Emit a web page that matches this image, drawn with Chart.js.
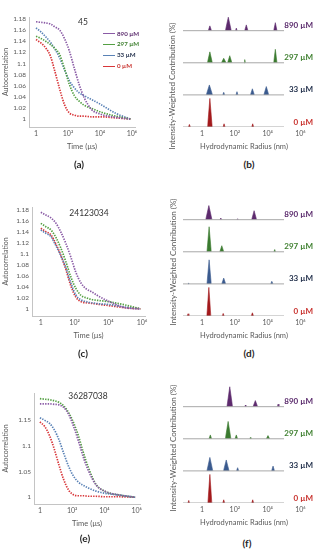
<!DOCTYPE html>
<html>
<head>
<meta charset="utf-8">
<script src="https://cdn.jsdelivr.net/npm/chart.js@4.4.1/dist/chart.umd.min.js"></script>
<style>
  body { margin: 0; background: #fff; font-family: Lato, "Open Sans", sans-serif; }
  #fig { position: relative; width: 334px; height: 550px; overflow: hidden; }
  canvas { position: absolute; }
  .txt { position: absolute; transform: translate(-50%, -50%); white-space: nowrap; color: #333; }
  .tag { font-weight: 700; font-size: 10px; color: #262626; }
  .num { font-size: 8.5px; }
  .ytitle { position: absolute; transform: translate(-50%, -50%) rotate(-90deg); white-space: nowrap;
            font-size: 8px; color: #595959; }
  .leg { position: absolute; left: 103px; font-size: 6.2px; font-weight: 700; white-space: nowrap; }
  .leg i { display: inline-block; width: 12px; height: 0; border-top: 1px solid; vertical-align: middle; margin-right: 2px; }
</style>
</head>
<body>
<div id="fig">
  <canvas id="ca" width="160" height="151" style="left:0;top:0"></canvas>
  <canvas id="cc" width="160" height="160" style="left:0;top:180px"></canvas>
  <canvas id="ce" width="160" height="168" style="left:0;top:360px"></canvas>
  <canvas id="cb" width="167" height="151" style="left:167px;top:0"></canvas>
  <canvas id="cd" width="167" height="160" style="left:167px;top:180px"></canvas>
  <canvas id="cf" width="167" height="167" style="left:167px;top:360px"></canvas>

  <div class="txt num" style="left:83px;top:22px">45</div>
  <div class="txt num" style="left:89px;top:213px">24123034</div>
  <div class="txt num" style="left:88px;top:396px">36287038</div>

  <div class="txt tag" style="left:79px;top:164px">(a)</div>
  <div class="txt tag" style="left:83px;top:353px">(c)</div>
  <div class="txt tag" style="left:85px;top:538px">(e)</div>
  <div class="txt tag" style="left:249px;top:164px">(b)</div>
  <div class="txt tag" style="left:249px;top:353px">(d)</div>
  <div class="txt tag" style="left:247px;top:543px">(f)</div>

  <div class="ytitle" style="left:172px;top:86px">Intensity-Weighted Contribution (%)</div>
  <div class="ytitle" style="left:173px;top:262px">Intensity-Weighted Contribution (%)</div>
  <div class="ytitle" style="left:173px;top:448px">Intensity-Weighted Contribution (%)</div>

  <div id="legend"></div>
</div>
<script>
// series order everywhere: 890, 297, 33, 0 µM
const concLabels = ['890 µM', '297 µM', '33 µM', '0 µM'];
const curveColors = ['#8a5ba6', '#54a043', '#5a82b6', '#d8373a'];
const labelColors = ['#5a2a6c', '#3f8030', '#1e2c48', '#c8302c'];
const peakColors = ['#5d2a6d', '#3a7a2f', '#3a5a8e', '#a31a1c'];
const axisGray = '#c4c4c4';
const textGray = '#595959';

// autocorrelation, time in µs
const times = [1, 2, 4, 8, 15, 30, 60, 120, 250, 500, 1000, 3000, 10000, 100000, 800000];
const a890 = [1.175, 1.174, 1.173, 1.171, 1.166, 1.160, 1.145, 1.123, 1.091, 1.062, 1.039, 1.017, 1.009, 1.003, 1.0];
const a297 = [1.149, 1.145, 1.140, 1.134, 1.127, 1.116, 1.091, 1.063, 1.042, 1.032, 1.025, 1.019, 1.013, 1.005, 1.0];
const a33 = [1.164, 1.157, 1.148, 1.138, 1.126, 1.110, 1.089, 1.069, 1.056, 1.047, 1.042, 1.035, 1.027, 1.010, 1.0];
const a0 = [1.143, 1.137, 1.128, 1.113, 1.086, 1.054, 1.026, 1.011, 1.007, 1.005, 1.005, 1.004, 1.004, 1.002, 1.0];

const c890 = [1.175, 1.170, 1.165, 1.155, 1.140, 1.119, 1.094, 1.066, 1.046, 1.036, 1.031, 1.022, 1.014, 1.002, 1.0];
const c297 = [1.155, 1.149, 1.143, 1.129, 1.111, 1.086, 1.058, 1.037, 1.024, 1.020, 1.017, 1.015, 1.013, 1.007, 1.0];
const c33 = [1.143, 1.137, 1.131, 1.114, 1.097, 1.075, 1.047, 1.025, 1.016, 1.013, 1.011, 1.009, 1.008, 1.003, 1.0];
const c0 = [1.146, 1.140, 1.134, 1.117, 1.098, 1.072, 1.042, 1.021, 1.013, 1.011, 1.010, 1.008, 1.006, 1.002, 1.0];

const e890 = [1.181, 1.181, 1.181, 1.180, 1.179, 1.174, 1.161, 1.138, 1.108, 1.077, 1.052, 1.024, 1.012, 1.004, 1.0];
const e297 = [1.191, 1.190, 1.189, 1.187, 1.184, 1.177, 1.164, 1.145, 1.118, 1.086, 1.058, 1.025, 1.012, 1.004, 1.0];
const e33 = [1.154, 1.149, 1.143, 1.130, 1.112, 1.085, 1.060, 1.041, 1.029, 1.023, 1.018, 1.012, 1.008, 1.004, 1.0];
const e0 = [1.146, 1.137, 1.119, 1.092, 1.063, 1.034, 1.014, 1.005, 1.003, 1.003, 1.002, 1.002, 1.001, 1.001, 1.0];

// size distribution peaks: [radius nm, contribution %, half width in decades]
const b890 = [[3, 15, 0.10], [40, 42, 0.18], [123, 8, 0.05], [500, 18, 0.10], [29500, 25, 0.10]];
const b297 = [[3, 34, 0.15], [21, 14, 0.14], [49, 22, 0.13], [400, 10, 0.04], [29500, 42, 0.10]];
const b33 = [[2.8, 31, 0.19], [21, 8, 0.06], [135, 10, 0.06], [1175, 19, 0.12], [8300, 26, 0.15]];
const b0 = [[0.17, 8, 0.06], [3, 89, 0.14], [22, 10, 0.06], [1230, 10, 0.06]];

const d890 = [[2.6, 44, 0.19], [14, 5, 0.06], [148, 3, 0.04], [1500, 28, 0.15]];
const d297 = [[2.7, 78, 0.13], [16, 19, 0.12], [27000, 7, 0.05]];
const d33 = [[0.15, 3, 0.03], [2.7, 75, 0.13], [21, 18, 0.12], [18000, 8, 0.07]];
const d0 = [[0.14, 7, 0.05], [2.6, 89, 0.12], [19.5, 8, 0.06], [1175, 10, 0.07]];

const f890 = [[49, 62, 0.17], [440, 5, 0.03], [1780, 19, 0.14], [43600, 8, 0.05]];
const f297 = [[3.2, 12, 0.08], [39, 54, 0.17], [123, 12, 0.08], [890, 4, 0.03], [10500, 10, 0.10]];
const f33 = [[3, 42, 0.18], [30, 34, 0.17], [148, 10, 0.07], [21400, 15, 0.09]];
const f0 = [[0.155, 8, 0.05], [3, 89, 0.12], [21, 10, 0.06], [1230, 10, 0.06]];

// ticks
const powerTicks = [1, 100, 10000, 1000000];
const powerLabels = ['1', '10²', '10⁴', '10⁶'];
const yTicksAC = [1, 1.02, 1.04, 1.06, 1.08, 1.1, 1.12, 1.14, 1.16, 1.18];
const yTicksE = [1, 1.05, 1.1, 1.15];
const baseEnd = 100000;

Chart.defaults.font.family = 'Lato, "Open Sans", sans-serif';

// legend of panel (a)
const legend = document.getElementById('legend');
concLabels.forEach((t, i) => {
  const d = document.createElement('div');
  d.className = 'leg';
  d.style.top = (29.5 + i * 10.7) + 'px';
  d.style.color = labelColors[i];
  d.innerHTML = '<i style="border-color:' + curveColors[i] + '"></i>' + t;
  legend.appendChild(d);
});

function xAxis(min, max, title) {
  return {
    type: 'logarithmic', min: min, max: max,
    grid: { display: false, drawTicks: false },
    afterBuildTicks: s => { s.ticks = powerTicks.map(v => ({ value: v })); },
    afterFit: s => { s.height = 24; },
    ticks: { color: textGray, font: { size: 7 }, padding: 3, autoSkip: false, maxRotation: 0,
             callback: (v, i) => powerLabels[i] },
    title: { display: true, text: title, color: textGray, font: { size: 7.5 }, padding: 0 }
  };
}

function corrChart(id, series, yTicks, box) {
  new Chart(document.getElementById(id), {
    type: 'line',
    data: {
      datasets: series.map((vals, i) => ({
        label: concLabels[i],
        data: times.map((t, k) => ({ x: t, y: vals[k] })),
        borderColor: curveColors[i],
        borderWidth: 1.7,
        borderDash: [1.4, 1.2],
        pointRadius: 0,
        cubicInterpolationMode: 'monotone'
      }))
    },
    options: {
      responsive: false,
      animation: false,
      layout: { padding: { top: box.top, right: box.right, left: 0, bottom: 0 } },
      plugins: { legend: { display: false }, tooltip: { enabled: false } },
      scales: {
        x: Object.assign(xAxis(box.xMin, box.xMax, 'Time (µs)'), { border: { color: axisGray } }),
        y: {
          min: box.yMin, max: box.yMax,
          grid: { display: false, drawTicks: false },
          border: { color: axisGray },
          afterBuildTicks: s => { s.ticks = yTicks.map(v => ({ value: v })); },
          afterFit: s => { s.width = box.left; },
          ticks: { color: textGray, font: { size: 6.5 }, padding: 3, autoSkip: false,
                   callback: v => String(+v.toFixed(2)) },
          title: { display: true, text: 'Autocorrelation', color: textGray, font: { size: 7 }, padding: 2 }
        }
      }
    }
  });
}

const rowLabels = {
  id: 'rowLabels',
  afterDatasetsDraw(chart) {
    const { ctx, chartArea, scales } = chart;
    ctx.save();
    ctx.font = 'bold 8px Lato, "Open Sans", sans-serif';
    ctx.textAlign = 'right';
    ctx.textBaseline = 'middle';
    concLabels.forEach((t, i) => {
      ctx.fillStyle = labelColors[i];
      ctx.fillText(t, chartArea.right + 8, scales.y.getPixelForValue((3 - i) * 100) - 5);
    });
    ctx.restore();
  }
};

function distChart(id, rows, box) {
  const xMin = 0.069, xMax = 1.9e6;
  const datasets = [];
  rows.forEach((peaks, i) => {
    const base = (3 - i) * 100;
    datasets.push({
      data: [{ x: xMin, y: base }, { x: baseEnd, y: base }],
      borderColor: '#a8a8a8', borderWidth: 1, pointRadius: 0
    });
    const pts = [];
    peaks.forEach(([r, h, w]) => {
      const f = Math.pow(10, w);
      pts.push({ x: r / f, y: base }, { x: r, y: base + h }, { x: r * f, y: base }, { x: r * f, y: null });
    });
    datasets.push({
      data: pts, borderColor: peakColors[i], backgroundColor: peakColors[i],
      borderWidth: 0.6, pointRadius: 0, fill: { value: base }, spanGaps: false
    });
  });
  new Chart(document.getElementById(id), {
    type: 'line',
    data: { datasets: datasets },
    options: {
      responsive: false,
      animation: false,
      layout: { padding: { top: box.top, right: 29, left: 16, bottom: 0 } },
      plugins: { legend: { display: false }, tooltip: { enabled: false } },
      scales: {
        x: Object.assign(xAxis(xMin, xMax, 'Hydrodynamic Radius (nm)'), { border: { display: false } }),
        y: { display: false, min: 0, max: 380 }
      }
    },
    plugins: [rowLabels]
  });
}

corrChart('ca', [a890, a297, a33, a0], yTicksAC,
  { left: 29, top: 17, right: 25, xMin: 0.363, xMax: 1.55e6, yMin: 0.9856, yMax: 1.1836 });
corrChart('cc', [c890, c297, c33, c0], yTicksAC,
  { left: 32, top: 27, right: 15, xMin: 0.34, xMax: 1.5e6, yMin: 0.987, yMax: 1.1847 });
corrChart('ce', [e890, e297, e33, e0], yTicksE,
  { left: 34, top: 33, right: 20, xMin: 0.43, xMax: 1.6e6, yMin: 0.987, yMax: 1.202 });

distChart('cb', [b890, b297, b33, b0], { top: 5 });
distChart('cd', [d890, d297, d33, d0], { top: 14 });
distChart('cf', [f890, f297, f33, f0], { top: 21 });
</script>
</body>
</html>
